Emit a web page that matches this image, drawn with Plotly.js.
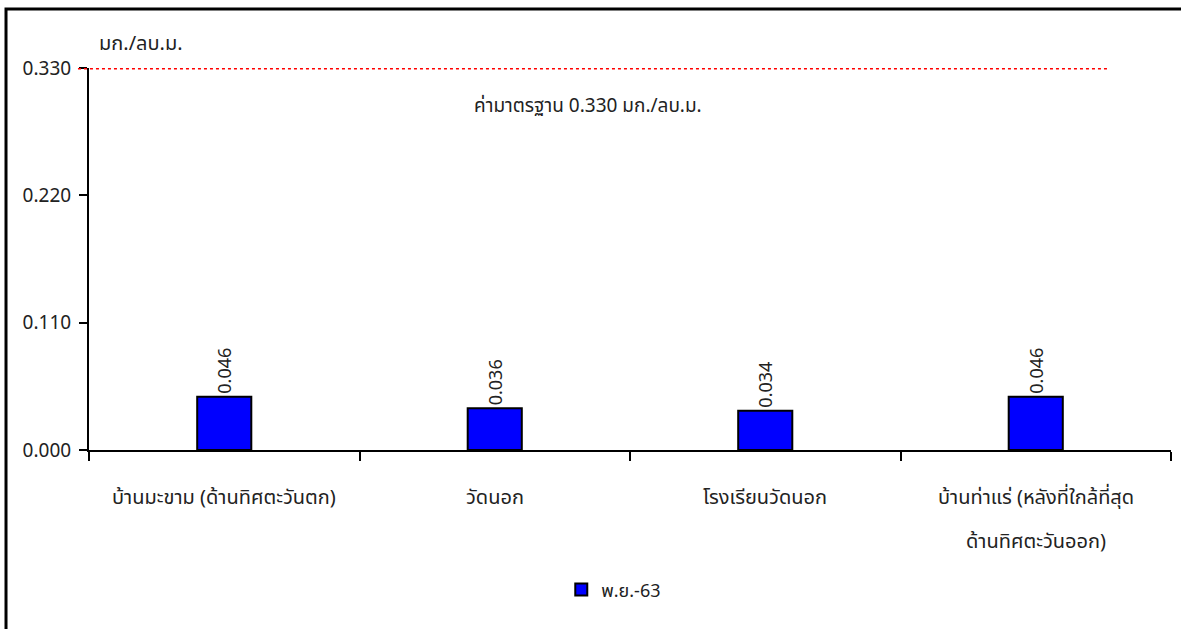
<!DOCTYPE html>
<html>
<head>
<meta charset="utf-8">
<script src="https://cdn.plot.ly/plotly-3.0.1.min.js"></script>
<style>html,body{margin:0;padding:0;background:#fff;}#chart{width:1181px;height:629px;}</style>
</head>
<body>
<div id="chart"></div>
<script>
const categories = [
  "บ้านมะขาม (ด้านทิศตะวันตก)",
  "วัดนอก",
  "โรงเรียนวัดนอก",
  "บ้านท่าแร่ (หลังที่ใกล้ที่สุด\nด้านทิศตะวันออก)"
];
const seriesName = "พ.ย.-63";
const values = [0.046, 0.036, 0.034, 0.046];
const standardValue = 0.330;
const yTicks = [0, 0.110, 0.220, 0.330];
const unitLabel = "มก./ลบ.ม.";
const standardLabel = "ค่ามาตรฐาน 0.330 มก./ลบ.ม.";

const FONT = "Noto Sans, 'Noto Sans Thai', Tahoma, sans-serif";
const TXT = "#222";

const trace = {
  type: "bar",
  x: categories,
  y: values,
  name: seriesName,
  width: 0.2,
  marker: {color: "#0000ff", line: {color: "#000000", width: 2}},
  text: values.map(v => v.toFixed(3)),
  textposition: "outside",
  textangle: -90,
  textfont: {family: FONT, size: 18, color: TXT},
  cliponaxis: false,
  hoverinfo: "skip"
};

// category labels: one annotation per line, so the line spacing can follow the reference
const lineY = [-0.123, -0.238];
const catAnnotations = [];
categories.forEach(c => {
  c.split("\n").forEach((line, i) => {
    catAnnotations.push({
      xref: "x", yref: "paper", x: c, y: lineY[i], xanchor: "center", yanchor: "middle",
      text: line, showarrow: false, font: {family: FONT, size: 20, color: TXT}
    });
  });
});

const layout = {
  width: 1181,
  height: 629,
  margin: {l: 89, r: 10, t: 68, b: 179},
  paper_bgcolor: "#ffffff",
  plot_bgcolor: "#ffffff",
  font: {family: FONT, size: 18, color: TXT},
  showlegend: true,
  legend: {
    orientation: "h",
    x: 0.485, xanchor: "center",
    y: -0.366, yanchor: "middle",
    font: {family: FONT, size: 18, color: TXT}
  },
  xaxis: {
    type: "category",
    showline: true, linecolor: "#000", linewidth: 2,
    ticks: "outside", tickson: "boundaries", ticklen: 9, tickwidth: 2, tickcolor: "#000",
    showticklabels: false,
    showgrid: false, zeroline: false
  },
  yaxis: {
    range: [0, standardValue],
    tickmode: "array",
    tickvals: yTicks,
    ticktext: yTicks.map(v => v.toFixed(3)),
    showline: true, linecolor: "#000", linewidth: 2,
    ticks: "outside", ticklen: 8, tickwidth: 2, tickcolor: "#000",
    ticklabelstandoff: 4,
    showgrid: false, zeroline: false,
    tickfont: {family: FONT, size: 19, color: TXT}
  },
  shapes: [
    {type: "line", xref: "paper", yref: "y", x0: -0.0102, x1: 0.9436, y0: standardValue, y1: standardValue,
     line: {color: "#ff0000", width: 3, dash: "dot"}},
    {type: "rect", xref: "paper", yref: "paper", x0: -0.0767, x1: 1.05, y0: -0.5, y1: 1.1545,
     line: {color: "#000", width: 3}, fillcolor: "rgba(0,0,0,0)", layer: "below"}
  ],
  annotations: [
    {xref: "paper", yref: "paper", x: 0.0074, y: 1.068, xanchor: "left", yanchor: "middle",
     text: unitLabel, showarrow: false, font: {family: FONT, size: 20, color: TXT}},
    {xref: "paper", yref: "paper", x: 0.461, y: 0.903, xanchor: "center", yanchor: "middle",
     text: standardLabel, showarrow: false, font: {family: FONT, size: 19, color: TXT}}
  ].concat(catAnnotations)
};

Plotly.newPlot("chart", [trace], layout, {displayModeBar: false, staticPlot: true});
</script>
</body>
</html>
